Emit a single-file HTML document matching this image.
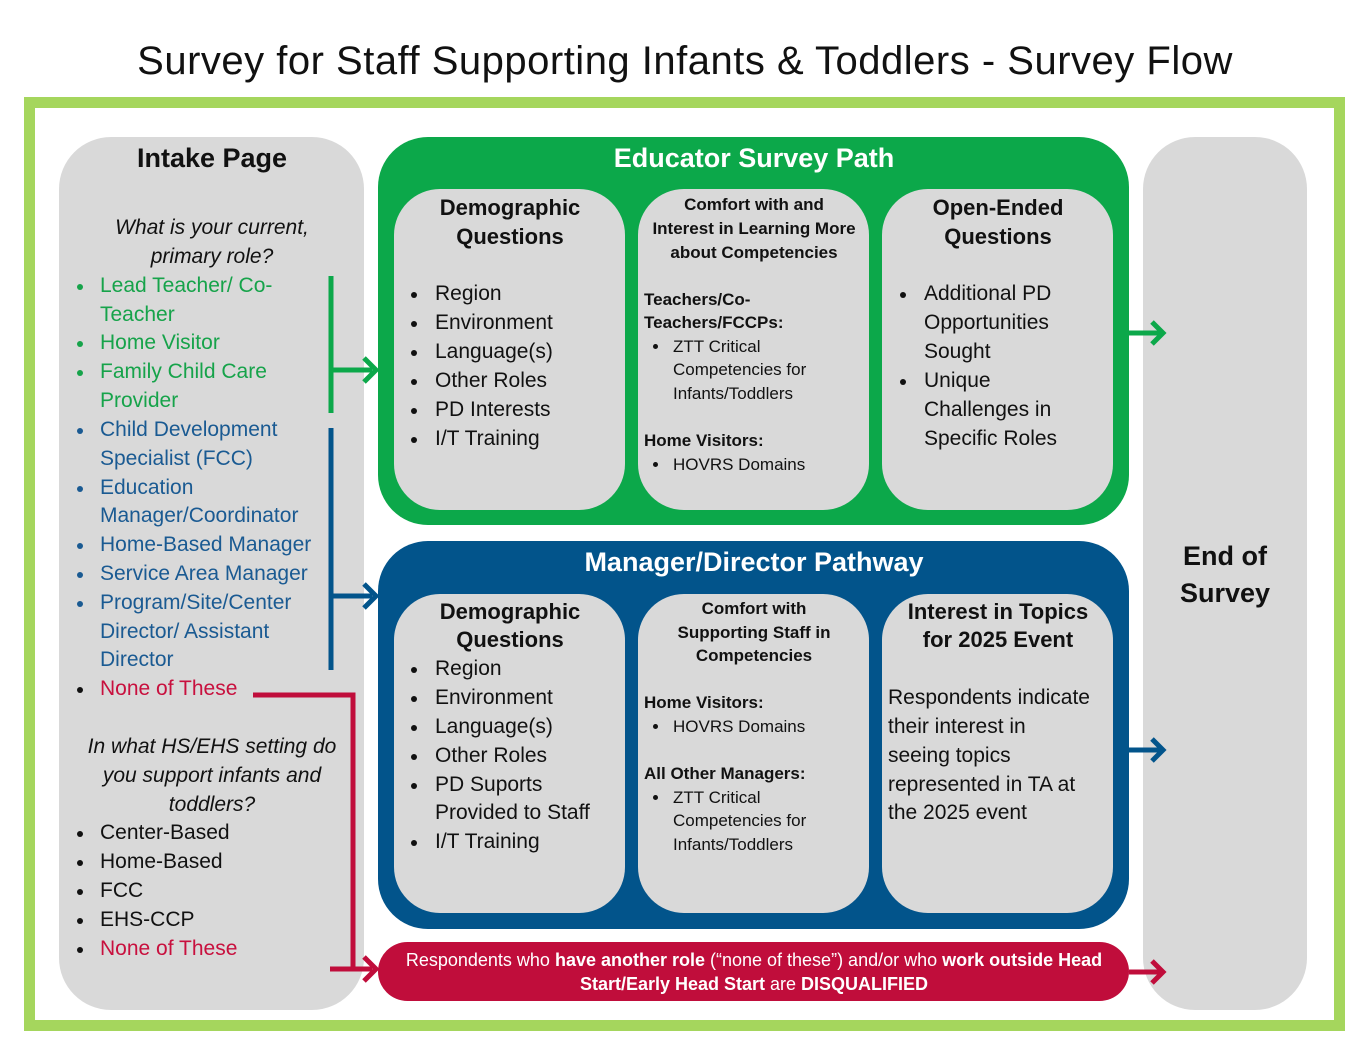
<!DOCTYPE html>
<html><head><meta charset="utf-8"><style>
body{margin:0;width:1370px;height:1047px;position:relative;background:#fff;font-family:"Liberation Sans",sans-serif;overflow:hidden}
div{position:absolute}
.t{white-space:nowrap;line-height:30px;height:30px;font-size:21px;color:#111}
.c{transform:translateX(-50%)}
.b{font-weight:bold}
.i{font-style:italic}
.g{color:#16a34a}.bl{color:#1a5a92}.r{color:#c8103e}.w{color:#fff}
.dot{width:6px;height:6px;border-radius:50%;background:#111}
.box{background:#d9d9d9}
</style></head><body>
<div class="t c" style="left:685px;top:44px;font-size:40px;line-height:34px;height:34px;letter-spacing:0.5px">Survey for Staff Supporting Infants &amp; Toddlers - Survey Flow</div>
<div style="left:24px;top:97px;width:1299px;height:912px;border:11px solid #a5d65d;background:#fff"></div>

<div class="box" style="left:59px;top:137px;width:305px;height:873px;border-radius:52px"></div>
<div class="box" style="left:1143px;top:137px;width:164px;height:873px;border-radius:52px"></div>

<div style="left:378px;top:137px;width:751px;height:388px;border-radius:50px;background:#0ca84a"></div>
<div style="left:378px;top:541px;width:751px;height:388px;border-radius:50px;background:#02548b"></div>
<div style="left:378px;top:942px;width:751px;height:59px;border-radius:30px;background:#c00d3b"></div>

<div class="box" style="left:394px;top:189px;width:231px;height:321px;border-radius:46px"></div>
<div class="box" style="left:638px;top:189px;width:231px;height:321px;border-radius:46px"></div>
<div class="box" style="left:882px;top:189px;width:231px;height:321px;border-radius:46px"></div>
<div class="box" style="left:394px;top:594px;width:231px;height:319px;border-radius:46px"></div>
<div class="box" style="left:638px;top:594px;width:231px;height:319px;border-radius:46px"></div>
<div class="box" style="left:882px;top:594px;width:231px;height:319px;border-radius:46px"></div>

<svg width="1370" height="1047" style="position:absolute;left:0;top:0">
<g fill="none" stroke-width="5">
<path d="M331 276V413M331 370H372" stroke="#0ca84a"/>
<path d="M364 358L376 370L364 382" stroke="#0ca84a" stroke-width="5"/>
<path d="M331 428V670M331 596H372" stroke="#02548b"/>
<path d="M364 584L376 596L364 608" stroke="#02548b"/>
<path d="M253 695H353V969M330 969H372" stroke="#c00d3b"/>
<path d="M364 957L376 969L364 981" stroke="#c00d3b"/>
<path d="M1129 333H1162M1152 322L1163 333L1152 344" stroke="#0ca84a"/>
<path d="M1129 750H1162M1152 739L1163 750L1152 761" stroke="#02548b"/>
<path d="M1129 972H1162M1152 961L1163 972L1152 983" stroke="#c00d3b"/>
</g></svg>

<!-- Intake -->
<div class="t c b" style="left:212px;top:143px;font-size:27px">Intake Page</div>
<div class="t c i" style="left:212px;top:213px">What is your current,</div>
<div class="t c i" style="left:212px;top:242px">primary role?</div>
<div class="t g" style="left:100px;top:271px">Lead Teacher/ Co-</div>
<div class="t g" style="left:100px;top:300px">Teacher</div>
<div class="t g" style="left:100px;top:328px">Home Visitor</div>
<div class="t g" style="left:100px;top:357px">Family Child Care</div>
<div class="t g" style="left:100px;top:386px">Provider</div>
<div class="t bl" style="left:100px;top:415px">Child Development</div>
<div class="t bl" style="left:100px;top:444px">Specialist (FCC)</div>
<div class="t bl" style="left:100px;top:473px">Education</div>
<div class="t bl" style="left:100px;top:501px">Manager/Coordinator</div>
<div class="t bl" style="left:100px;top:530px">Home-Based Manager</div>
<div class="t bl" style="left:100px;top:559px">Service Area Manager</div>
<div class="t bl" style="left:100px;top:588px">Program/Site/Center</div>
<div class="t bl" style="left:100px;top:617px">Director/ Assistant</div>
<div class="t bl" style="left:100px;top:645px">Director</div>
<div class="t r" style="left:100px;top:674px">None of These</div>
<div class="dot" style="left:77px;top:284px;background:#16a34a"></div>
<div class="dot" style="left:77px;top:341px;background:#16a34a"></div>
<div class="dot" style="left:77px;top:370px;background:#16a34a"></div>
<div class="dot" style="left:77px;top:428px;background:#1a5a92"></div>
<div class="dot" style="left:77px;top:486px;background:#1a5a92"></div>
<div class="dot" style="left:77px;top:543px;background:#1a5a92"></div>
<div class="dot" style="left:77px;top:572px;background:#1a5a92"></div>
<div class="dot" style="left:77px;top:601px;background:#1a5a92"></div>
<div class="dot" style="left:77px;top:687px"></div>
<div class="t c i" style="left:212px;top:732px">In what HS/EHS setting do</div>
<div class="t c i" style="left:212px;top:761px">you support infants and</div>
<div class="t c i" style="left:212px;top:790px">toddlers?</div>
<div class="t" style="left:100px;top:818px">Center-Based</div>
<div class="t" style="left:100px;top:847px">Home-Based</div>
<div class="t" style="left:100px;top:876px">FCC</div>
<div class="t" style="left:100px;top:905px">EHS-CCP</div>
<div class="t r" style="left:100px;top:934px">None of These</div>
<div class="dot" style="left:77px;top:831px"></div>
<div class="dot" style="left:77px;top:860px"></div>
<div class="dot" style="left:77px;top:889px"></div>
<div class="dot" style="left:77px;top:918px"></div>
<div class="dot" style="left:77px;top:947px"></div>

<!-- Educator -->
<div class="t c b w" style="left:754px;top:143px;font-size:27px">Educator Survey Path</div>
<div class="t c b" style="left:510px;top:193px;font-size:22px">Demographic</div>
<div class="t c b" style="left:510px;top:222px;font-size:22px">Questions</div>
<div class="t" style="left:435px;top:279px">Region</div>
<div class="t" style="left:435px;top:308px">Environment</div>
<div class="t" style="left:435px;top:337px">Language(s)</div>
<div class="t" style="left:435px;top:366px">Other Roles</div>
<div class="t" style="left:435px;top:395px">PD Interests</div>
<div class="t" style="left:435px;top:424px">I/T Training</div>
<div class="dot" style="left:411px;top:292px"></div><div class="dot" style="left:411px;top:321px"></div><div class="dot" style="left:411px;top:350px"></div><div class="dot" style="left:411px;top:379px"></div><div class="dot" style="left:411px;top:408px"></div><div class="dot" style="left:411px;top:437px"></div>

<div class="t c b" style="left:754px;top:190px;font-size:17px">Comfort with and</div>
<div class="t c b" style="left:754px;top:214px;font-size:17px">Interest in Learning More</div>
<div class="t c b" style="left:754px;top:238px;font-size:17px">about Competencies</div>
<div class="t b" style="left:644px;top:285px;font-size:17px">Teachers/Co-</div>
<div class="t b" style="left:644px;top:308px;font-size:17px">Teachers/FCCPs:</div>
<div class="t" style="left:673px;top:332px;font-size:17px">ZTT Critical</div>
<div class="t" style="left:673px;top:355px;font-size:17px">Competencies for</div>
<div class="t" style="left:673px;top:379px;font-size:17px">Infants/Toddlers</div>
<div class="t b" style="left:644px;top:426px;font-size:17px">Home Visitors:</div>
<div class="t" style="left:673px;top:450px;font-size:17px">HOVRS Domains</div>
<div class="dot" style="left:653px;top:344px;width:5px;height:5px"></div>
<div class="dot" style="left:653px;top:462px;width:5px;height:5px"></div>

<div class="t c b" style="left:998px;top:193px;font-size:22px">Open-Ended</div>
<div class="t c b" style="left:998px;top:222px;font-size:22px">Questions</div>
<div class="t" style="left:924px;top:279px">Additional PD</div>
<div class="t" style="left:924px;top:308px">Opportunities</div>
<div class="t" style="left:924px;top:337px">Sought</div>
<div class="t" style="left:924px;top:366px">Unique</div>
<div class="t" style="left:924px;top:395px">Challenges in</div>
<div class="t" style="left:924px;top:424px">Specific Roles</div>
<div class="dot" style="left:900px;top:292px"></div><div class="dot" style="left:900px;top:379px"></div>

<!-- Manager -->
<div class="t c b w" style="left:754px;top:547px;font-size:27px">Manager/Director Pathway</div>
<div class="t c b" style="left:510px;top:597px;font-size:22px">Demographic</div>
<div class="t c b" style="left:510px;top:625px;font-size:22px">Questions</div>
<div class="t" style="left:435px;top:654px">Region</div>
<div class="t" style="left:435px;top:683px">Environment</div>
<div class="t" style="left:435px;top:712px">Language(s)</div>
<div class="t" style="left:435px;top:741px">Other Roles</div>
<div class="t" style="left:435px;top:770px">PD Suports</div>
<div class="t" style="left:435px;top:798px">Provided to Staff</div>
<div class="t" style="left:435px;top:827px">I/T Training</div>
<div class="dot" style="left:411px;top:667px"></div><div class="dot" style="left:411px;top:696px"></div><div class="dot" style="left:411px;top:725px"></div><div class="dot" style="left:411px;top:754px"></div><div class="dot" style="left:411px;top:783px"></div><div class="dot" style="left:411px;top:840px"></div>

<div class="t c b" style="left:754px;top:594px;font-size:17px">Comfort with</div>
<div class="t c b" style="left:754px;top:618px;font-size:17px">Supporting Staff in</div>
<div class="t c b" style="left:754px;top:641px;font-size:17px">Competencies</div>
<div class="t b" style="left:644px;top:688px;font-size:17px">Home Visitors:</div>
<div class="t" style="left:673px;top:712px;font-size:17px">HOVRS Domains</div>
<div class="t b" style="left:644px;top:759px;font-size:17px">All Other Managers:</div>
<div class="t" style="left:673px;top:783px;font-size:17px">ZTT Critical</div>
<div class="t" style="left:673px;top:806px;font-size:17px">Competencies for</div>
<div class="t" style="left:673px;top:830px;font-size:17px">Infants/Toddlers</div>
<div class="dot" style="left:653px;top:724px;width:5px;height:5px"></div>
<div class="dot" style="left:653px;top:795px;width:5px;height:5px"></div>

<div class="t c b" style="left:998px;top:597px;font-size:22px">Interest in Topics</div>
<div class="t c b" style="left:998px;top:625px;font-size:22px">for 2025 Event</div>
<div class="t" style="left:888px;top:683px;font-size:21px">Respondents indicate</div>
<div class="t" style="left:888px;top:712px">their interest in</div>
<div class="t" style="left:888px;top:741px">seeing topics</div>
<div class="t" style="left:888px;top:770px">represented in TA at</div>
<div class="t" style="left:888px;top:798px">the 2025 event</div>

<!-- Red -->
<div class="t c w" style="left:754px;top:945px;font-size:18px">Respondents who <b>have another role</b> (“none of these”) and/or who <b>work outside Head</b></div>
<div class="t c w" style="left:754px;top:969px;font-size:18px"><b>Start/Early Head Start</b> are <b>DISQUALIFIED</b></div>

<div class="t c b" style="left:1225px;top:541px;font-size:27px">End of</div>
<div class="t c b" style="left:1225px;top:578px;font-size:27px">Survey</div>
</body></html>
